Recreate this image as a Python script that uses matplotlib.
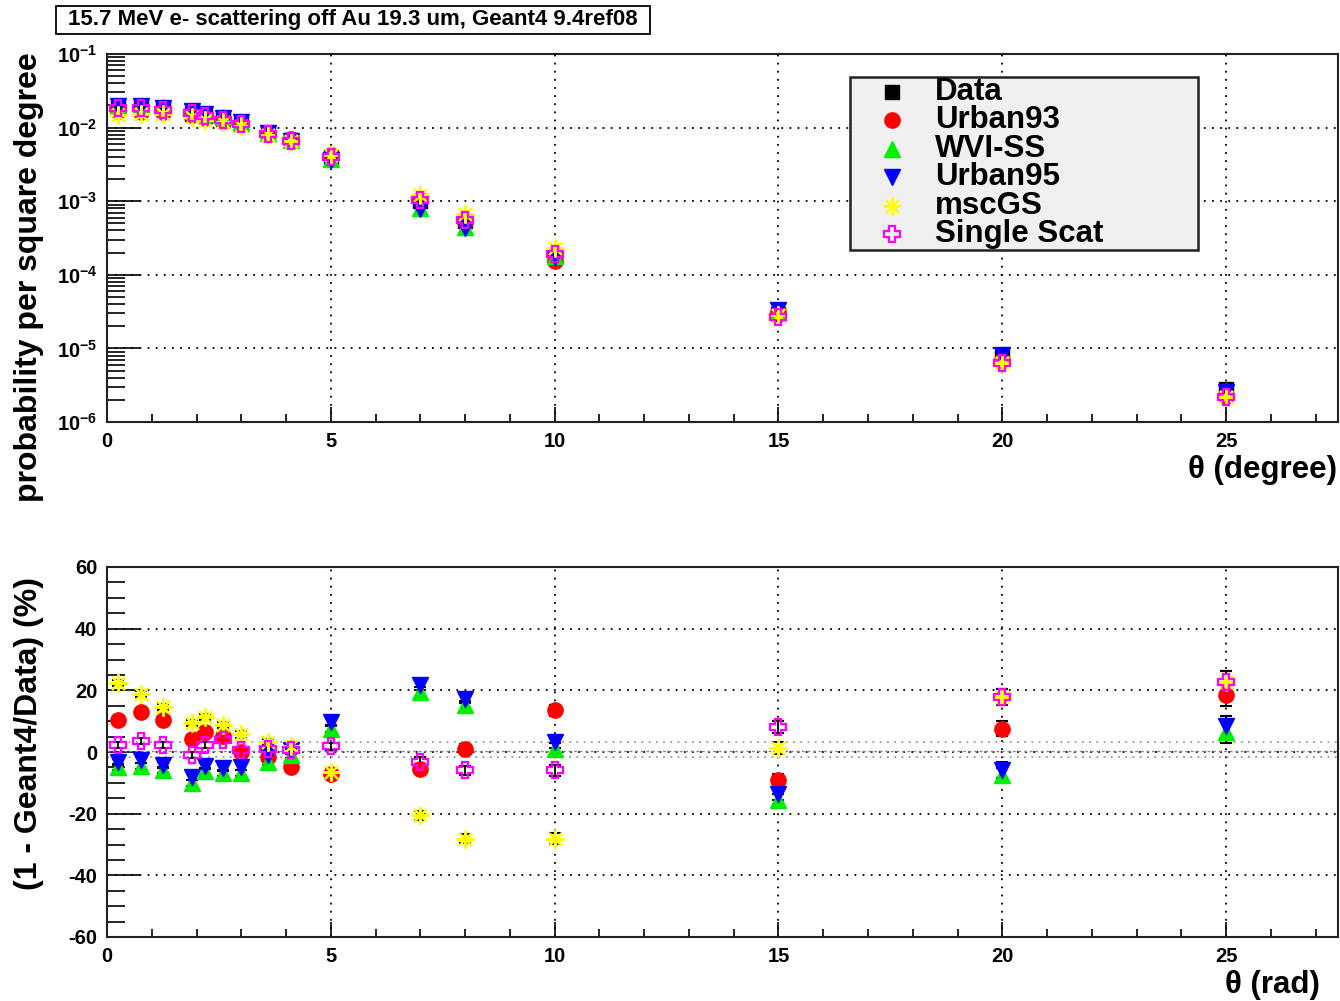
import numpy as np
import matplotlib
matplotlib.use("Agg")
import matplotlib.pyplot as plt
from matplotlib.ticker import MultipleLocator, LogLocator, NullFormatter
from matplotlib.patches import Rectangle

plt.rcParams['font.family'] = ['Liberation Sans', 'DejaVu Sans']
plt.rcParams['font.weight'] = 'bold'
plt.rcParams['axes.unicode_minus'] = False
plt.rcParams['mathtext.default'] = 'bf'

# ---------------- data ----------------
theta = [0.25, 0.75, 1.25, 1.9, 2.2, 2.6, 3.0, 3.6, 4.1, 5, 7, 8, 10, 15, 20, 25]
data_prob = [0.019, 0.019, 0.018, 0.0155, 0.0145, 0.013, 0.0112, 0.0083, 0.0067,
             0.0040, 0.00100, 0.00053, 0.00018, 2.9e-5, 7.6e-6, 2.8e-6]

# (1 - Geant4/Data) in %
ratio_urban93 = [10.5, 13.0, 10.3, 4.3, 6.5, 5.1, 0.0, -1.6, -4.9, -7.0, -5.4, 1.1, 13.5, -9.2, 7.6, 18.4]
ratio_wvi = [-4.9, -4.5, -5.9, -10.0, -6.3, -6.8, -6.8, -3.2, -1.1, 7.6, 19.5, 15.1, 1.1, -15.7, -7.6, 6.5]
ratio_urban95 = [-3.2, -2.7, -4.1, -8.1, -4.6, -5.1, -4.9, -1.1, 0.5, 9.7, 21.6, 17.3, 3.2, -13.5, -5.9, 8.3]
ratio_mscgs = [22.4, 18.9, 14.6, 9.4, 11.4, 8.7, 5.7, 3.2, 2.1, -6.5, -20.5, -28.1, -28.1, 1.4, 17.8, 22.7]
ratio_single = [2.4, 3.5, 2.2, -1.1, 2.2, 3.8, 0.5, 1.1, 0.5, 1.8, -3.2, -5.9, -5.9, 8.1, 17.8, 22.7]
ratio_err = [1.0, 1.0, 1.0, 1.0, 1.0, 1.0, 1.0, 1.0, 1.0, 1.2, 1.5, 1.5, 1.8, 2.0, 2.5, 3.5]
data_band = (-1.6, 3.2)

labels = ["Data", "Urban93", "WVI-SS", "Urban95", "mscGS", "Single Scat"]
title_text = "15.7 MeV e- scattering off Au 19.3 um, Geant4 9.4ref08"

styles = {
    "Data": dict(marker='s', color='black', mfc='black', ms=10, mew=1),
    "Urban93": dict(marker='o', color='#ff0000', mfc='#ff0000', ms=11, mew=1),
    "WVI-SS": dict(marker='^', color='#00ee00', mfc='#00ee00', ms=11, mew=1),
    "Urban95": dict(marker='v', color='#0000ff', mfc='#0000ff', ms=11, mew=1),
    "mscGS": dict(marker=(8, 2, 0), color='#ffff00', mfc='#ffff00', ms=13, mew=1.6),
    "Single Scat": dict(marker='P', color='#ff00ff', mfc='none', ms=12, mew=1.6),
}

ratios = {
    "Urban93": ratio_urban93,
    "WVI-SS": ratio_wvi,
    "Urban95": ratio_urban95,
    "mscGS": ratio_mscgs,
    "Single Scat": ratio_single,
}

W, H = 1340, 1001
fig = plt.figure(figsize=(W / 100, H / 100), dpi=100)

def axrect(x0, y0, x1, y1):
    return [x0 / W, 1 - y1 / H, (x1 - x0) / W, (y1 - y0) / H]

ax1 = fig.add_axes(axrect(107, 54, 1338, 422))
ax2 = fig.add_axes(axrect(107, 567, 1338, 937))

x = np.array(theta)
d = np.array(data_prob)

# ---------------- top panel ----------------
ax1.plot(x, d, linestyle='none', zorder=3, **styles["Data"])
for i, name in enumerate(labels[1:]):
    g4 = d * (1 - np.array(ratios[name]) / 100.0)
    ax1.plot(x, g4, linestyle='none', zorder=4 + i, **styles[name])

ax1.set_yscale('log')
ax1.set_xlim(0, 27.5)
ax1.set_ylim(1e-6, 1e-1)
ax1.xaxis.set_major_locator(MultipleLocator(5))
ax1.xaxis.set_minor_locator(MultipleLocator(1))
ax1.yaxis.set_major_locator(LogLocator(base=10, numticks=10))
ax1.yaxis.set_minor_locator(LogLocator(base=10, subs=np.arange(2, 10), numticks=20))
ax1.yaxis.set_minor_formatter(NullFormatter())

# ---------------- bottom panel ----------------
ax2.axhline(data_band[1], color='#999999', linestyle=(0, (1, 3)), lw=1.3, zorder=1)
ax2.axhline(data_band[0], color='#999999', linestyle=(0, (1, 3)), lw=1.3, zorder=1)
ax2.axhline(0.3, color='#888888', linestyle=(0, (2, 2)), lw=1.0, zorder=1)
for i, name in enumerate(labels[1:]):
    ax2.errorbar(x, ratios[name], yerr=ratio_err, fmt='none', ecolor='black',
                 elinewidth=1.3, capsize=4, capthick=1.5, zorder=2)
for i, name in enumerate(labels[1:]):
    ax2.plot(x, ratios[name], linestyle='none', zorder=4 + i, **styles[name])

ax2.set_xlim(0, 27.5)
ax2.set_ylim(-60, 60)
ax2.xaxis.set_major_locator(MultipleLocator(5))
ax2.xaxis.set_minor_locator(MultipleLocator(1))
ax2.yaxis.set_major_locator(MultipleLocator(20))
ax2.yaxis.set_minor_locator(MultipleLocator(5))

for ax in (ax1, ax2):
    ax.grid(True, which='major', color='black', linestyle=(0, (1, 3.5)), lw=1.3, zorder=0)
    ax.set_axisbelow(True)
    for sp in ax.spines.values():
        sp.set_linewidth(1.5)
        sp.set_color('#222222')
    ax.tick_params(axis='both', which='both', direction='in', top=False, right=False,
                   width=1.2, labelsize=14.5, pad=7)
    ax.tick_params(axis='x', which='major', length=11)
    ax.tick_params(axis='x', which='minor', length=6)
    ax.tick_params(axis='y', which='major', length=24)
    ax.tick_params(axis='y', which='minor', length=13)
    for lab in ax.get_xticklabels() + ax.get_yticklabels():
        lab.set_fontweight('bold')

# ---------------- legend (manual box) ----------------
lx0, lx1, ly0, ly1 = 850, 1198, 77, 250
def ax1_coords(px, py):
    return (px - 107) / 1231, (422 - py) / 368
bx0, by1 = ax1_coords(lx0, ly0)
bx1, by0 = ax1_coords(lx1, ly1)
ax1.add_patch(Rectangle((bx0, by0), bx1 - bx0, by1 - by0, transform=ax1.transAxes,
                        facecolor='#f0f0f0', edgecolor='#222222', lw=1.8, zorder=20,
                        clip_on=False))
for i, name in enumerate(labels):
    py = 92 + i * 28.4
    mx, my = ax1_coords(892, py)
    tx, _ = ax1_coords(935, py)
    st = dict(styles[name])
    ax1.plot([mx], [my], transform=ax1.transAxes, linestyle='none', zorder=21,
             clip_on=False, **st)
    ax1.text(tx, my, name, transform=ax1.transAxes, fontsize=22.5, fontweight='bold',
             va='center', ha='left', zorder=22)

# ---------------- labels ----------------
fig.text(29 / W, 1 - 52 / H, "probability per square degree", rotation=90,
         va='top', ha='center', fontsize=23, fontweight='bold')
fig.text(1337 / W, 1 - 470 / H, "θ (degree)", ha='right', va='center',
         fontsize=22.5, fontweight='bold')
fig.text(29 / W, 1 - 577 / H, "(1 - Geant4/Data) (%)", rotation=90,
         va='top', ha='center', fontsize=23, fontweight='bold')
fig.text(1320 / W, 1 - 985 / H, "θ (rad)", ha='right', va='center',
         fontsize=22.5, fontweight='bold')

# title box
fig.patches.append(Rectangle((56 / W, 1 - 34 / H), (650 - 56) / W, (34 - 6) / H,
                             transform=fig.transFigure, facecolor='white',
                             edgecolor='black', lw=1.3))
fig.text((56 + 650) / 2 / W, 1 - 20 / H, title_text, ha='center', va='center',
         fontsize=16, fontweight='bold')

fig.savefig("out.png", dpi=100)
